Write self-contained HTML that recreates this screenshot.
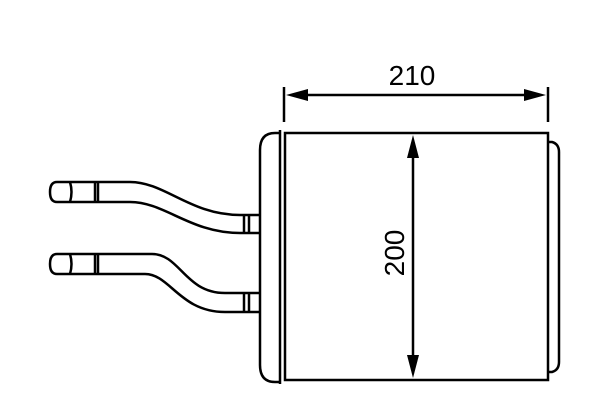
<html><body style="margin:0;background:#fff">
<svg width="600" height="400" viewBox="0 0 600 400" xmlns="http://www.w3.org/2000/svg" style="display:block">
<g fill="none" stroke="#000" stroke-width="2.5">
<!-- main body -->
<rect x="285" y="133" width="263" height="247"/>
<line x1="280" y1="130" x2="280" y2="384"/>
<path d="M280 133 H275 Q260 133 260 150 V365 Q260 382 275 382 H280"/>
<path d="M548 142 H552 Q559 144 559 152 V362 Q559 370 552 372 H548"/>
<!-- dimension 210 -->
<line x1="284" y1="87" x2="284" y2="122"/>
<line x1="548" y1="87" x2="548" y2="122"/>
<line x1="300" y1="95" x2="532" y2="95"/>
<!-- dimension 200 -->
<line x1="413" y1="150" x2="413" y2="362"/>
<!-- top pipe -->
<path d="M95 182 H130 C165 182 190 215 240 215 H260"/>
<path d="M95 202 H130 C165 202 190 233 240 233 H260"/>
<line x1="244" y1="215" x2="244" y2="233"/>
<line x1="249" y1="215" x2="249" y2="233"/>
<path d="M95 181 V203 M98 181 V203"/>
<path d="M95 182 H57 Q50 182 50 192 Q50 202 57 202 H95"/>
<path d="M70 182 Q73 192 70 202"/>
<!-- bottom pipe -->
<path d="M95 254 H152 C180 254 185 293 225 293 H260"/>
<path d="M95 274 H145 C170 274 180 312 225 312 H260"/>
<line x1="244" y1="293" x2="244" y2="312"/>
<line x1="249" y1="293" x2="249" y2="312"/>
<path d="M95 253 V275 M98 253 V275"/>
<path d="M95 254 H57 Q50 254 50 264 Q50 274 57 274 H95"/>
<path d="M70 254 Q73 264 70 274"/>
</g>
<g fill="#000">
<polygon points="286,95 308,89 308,101"/>
<polygon points="546,95 524,89 524,101"/>
<polygon points="413,135 407,158 419,158"/>
<polygon points="413,378 407,355 419,355"/>
</g>
<text x="412" y="85" font-family="Liberation Sans, sans-serif" font-size="28" text-anchor="middle">210</text>
<text transform="translate(404,253) rotate(-90)" font-family="Liberation Sans, sans-serif" font-size="28" text-anchor="middle">200</text>
</svg>
</body></html>
